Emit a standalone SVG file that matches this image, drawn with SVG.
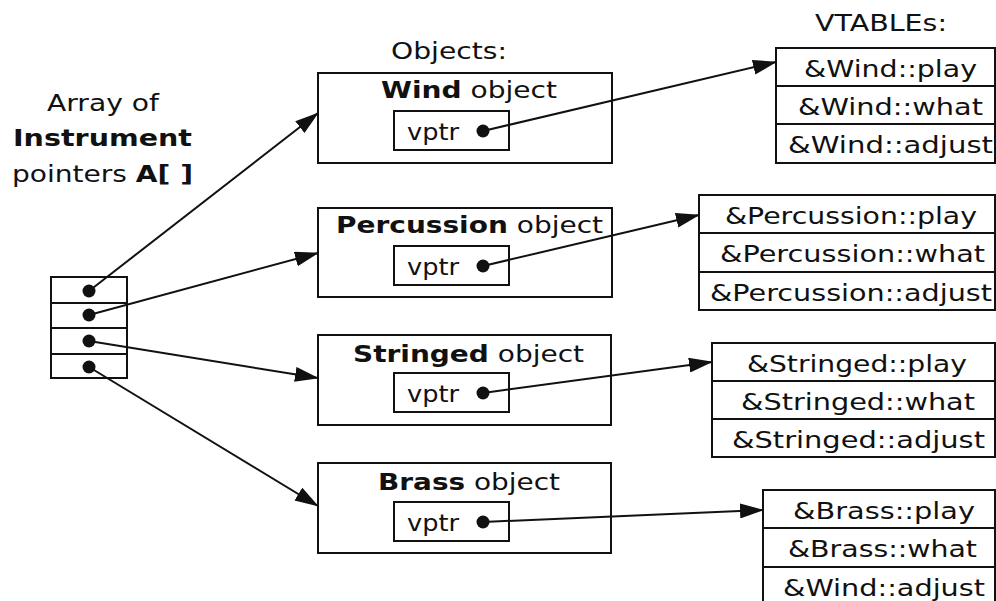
<svg xmlns="http://www.w3.org/2000/svg" width="996" height="601" viewBox="0 0 996 601">
<defs>
<marker id="ah" markerUnits="userSpaceOnUse" viewBox="0 0 24 15" markerWidth="24" markerHeight="15" refX="23" refY="7.5" orient="auto">
<path d="M0,0 L24,7.5 L0,15 z" fill="#111"/>
</marker>
<style>
text{font-family:"DejaVu Sans",Verdana,sans-serif;font-size:23px;fill:#111}
.c{text-anchor:middle}
.b{font-weight:bold}
.box{fill:none;stroke:#111;stroke-width:2}
.dot{fill:#111}
.con line{stroke:#111;stroke-width:2;marker-end:url(#ah)}
</style>
</defs>
<rect width="996" height="601" fill="#fff"/>

<g id="labels">
<text class="c" x="103" y="111" textLength="112" lengthAdjust="spacingAndGlyphs">Array of</text>
<text class="c b" x="102.5" y="146" textLength="179" lengthAdjust="spacingAndGlyphs">Instrument</text>
<text class="c" x="102.5" y="182" textLength="181" lengthAdjust="spacingAndGlyphs">pointers <tspan class="b">A[ ]</tspan></text>
<text class="c" x="449" y="59" textLength="116" lengthAdjust="spacingAndGlyphs">Objects:</text>
<text class="c" x="881" y="31" textLength="132" lengthAdjust="spacingAndGlyphs">VTABLEs:</text>
</g>

<g id="array">
<rect class="box" x="51" y="277" width="76" height="101"/>
<line class="box" x1="51" y1="303" x2="127" y2="303"/>
<line class="box" x1="51" y1="328" x2="127" y2="328"/>
<line class="box" x1="51" y1="354" x2="127" y2="354"/>
<circle class="dot" cx="89" cy="291" r="6.5"/>
<circle class="dot" cx="89" cy="315" r="6.5"/>
<circle class="dot" cx="89" cy="341" r="6.5"/>
<circle class="dot" cx="89" cy="367" r="6.5"/>
</g>

<g id="wind-object">
<rect class="box" x="318" y="73" width="294" height="90"/>
<text class="c" x="469" y="98" textLength="176" lengthAdjust="spacingAndGlyphs"><tspan class="b">Wind</tspan> object</text>
<rect class="box" x="394" y="111" width="115" height="39"/>
<text x="407" y="140" textLength="52" lengthAdjust="spacingAndGlyphs">vptr</text>
<circle class="dot" cx="483" cy="131" r="6.5"/>
</g>

<g id="percussion-object">
<rect class="box" x="318" y="208" width="294" height="89"/>
<text class="c" x="469.5" y="233" textLength="267" lengthAdjust="spacingAndGlyphs"><tspan class="b">Percussion</tspan> object</text>
<rect class="box" x="394" y="246" width="115" height="39"/>
<text x="407" y="275" textLength="52" lengthAdjust="spacingAndGlyphs">vptr</text>
<circle class="dot" cx="483" cy="266" r="6.5"/>
</g>

<g id="stringed-object">
<rect class="box" x="318" y="335" width="293" height="90"/>
<text class="c" x="468.5" y="362" textLength="231" lengthAdjust="spacingAndGlyphs"><tspan class="b">Stringed</tspan> object</text>
<rect class="box" x="394" y="373" width="115" height="39"/>
<text x="407" y="402" textLength="52" lengthAdjust="spacingAndGlyphs">vptr</text>
<circle class="dot" cx="483" cy="393" r="6.5"/>
</g>

<g id="brass-object">
<rect class="box" x="318" y="463" width="293" height="90"/>
<text class="c" x="469" y="490" textLength="182" lengthAdjust="spacingAndGlyphs"><tspan class="b">Brass</tspan> object</text>
<rect class="box" x="394" y="502" width="115" height="39"/>
<text x="407" y="531" textLength="52" lengthAdjust="spacingAndGlyphs">vptr</text>
<circle class="dot" cx="483" cy="522" r="6.5"/>
</g>

<g id="wind-vtable">
<rect class="box" x="776" y="48" width="219" height="115"/>
<line class="box" x1="776" y1="86" x2="995" y2="86"/>
<line class="box" x1="776" y1="124" x2="995" y2="124"/>
<text class="c" x="890.5" y="77" textLength="173" lengthAdjust="spacingAndGlyphs">&amp;Wind::play</text>
<text class="c" x="890.5" y="115" textLength="185" lengthAdjust="spacingAndGlyphs">&amp;Wind::what</text>
<text class="c" x="890.5" y="153" textLength="205" lengthAdjust="spacingAndGlyphs">&amp;Wind::adjust</text>
</g>

<g id="percussion-vtable">
<rect class="box" x="699" y="195" width="296" height="115"/>
<line class="box" x1="699" y1="233" x2="995" y2="233"/>
<line class="box" x1="699" y1="272" x2="995" y2="272"/>
<text class="c" x="851" y="224" textLength="252" lengthAdjust="spacingAndGlyphs">&amp;Percussion::play</text>
<text class="c" x="852.5" y="262" textLength="265" lengthAdjust="spacingAndGlyphs">&amp;Percussion::what</text>
<text class="c" x="851" y="301" textLength="282" lengthAdjust="spacingAndGlyphs">&amp;Percussion::adjust</text>
</g>

<g id="stringed-vtable">
<rect class="box" x="712" y="343" width="283" height="114"/>
<line class="box" x1="712" y1="381" x2="995" y2="381"/>
<line class="box" x1="712" y1="419" x2="995" y2="419"/>
<text class="c" x="857" y="372" textLength="220" lengthAdjust="spacingAndGlyphs">&amp;Stringed::play</text>
<text class="c" x="858" y="410" textLength="234" lengthAdjust="spacingAndGlyphs">&amp;Stringed::what</text>
<text class="c" x="858.5" y="448" textLength="253" lengthAdjust="spacingAndGlyphs">&amp;Stringed::adjust</text>
</g>

<g id="brass-vtable">
<rect class="box" x="763" y="490" width="232" height="120"/>
<line class="box" x1="763" y1="528" x2="995" y2="528"/>
<line class="box" x1="763" y1="567" x2="995" y2="567"/>
<text class="c" x="884" y="519" textLength="182" lengthAdjust="spacingAndGlyphs">&amp;Brass::play</text>
<text class="c" x="882.5" y="557" textLength="189" lengthAdjust="spacingAndGlyphs">&amp;Brass::what</text>
<text class="c" x="884" y="596" textLength="202" lengthAdjust="spacingAndGlyphs">&amp;Wind::adjust</text>
</g>

<g id="connectors" class="con">
<line x1="89" y1="291" x2="318" y2="113"/>
<line x1="89" y1="315" x2="318" y2="253"/>
<line x1="89" y1="341" x2="318" y2="378"/>
<line x1="89" y1="367" x2="318" y2="506"/>
<line x1="483" y1="131" x2="776" y2="62"/>
<line x1="483" y1="266" x2="699" y2="215"/>
<line x1="483" y1="393" x2="712" y2="362"/>
<line x1="483" y1="522" x2="763" y2="510"/>
</g>
</svg>
